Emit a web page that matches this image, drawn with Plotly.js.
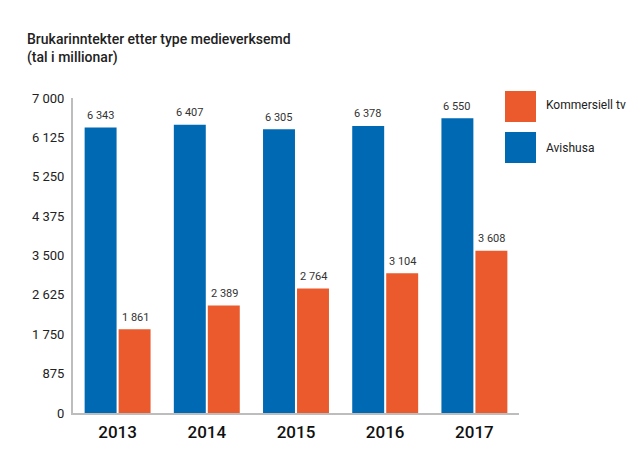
<!DOCTYPE html>
<html>
<head>
<meta charset="utf-8">
<script src="https://cdn.plot.ly/plotly-3.0.1.min.js"></script>
<style>
html,body{margin:0;padding:0;background:#fff;}
#chart{width:633px;height:471px;}
</style>
</head>
<body>
<div id="chart"></div>
<script>
var years = ['2013', '2014', '2015', '2016', '2017'];
var avishusa = [6343, 6407, 6305, 6378, 6550];
var kommersiellTv = [1861, 2389, 2764, 3104, 3608];
var seriesNames = ['Avishusa', 'Kommersiell tv'];
var yTicks = [0, 875, 1750, 2625, 3500, 4375, 5250, 6125, 7000];

var BLUE = '#0069b4';
var ORANGE = '#ea5a2c';
var FONT = 'Roboto, "Noto Sans", sans-serif';

function fmt(v) {
  return String(v).replace(/\B(?=(\d{3})+(?!\d))/g, ' ');
}

var traces = [
  {type: 'bar', name: seriesNames[0], x: years, y: avishusa, marker: {color: BLUE}, hoverinfo: 'none'},
  {type: 'bar', name: seriesNames[1], x: years, y: kommersiellTv, marker: {color: ORANGE}, hoverinfo: 'none'}
];

var annotations = [];
function addLabels(vals, shift) {
  for (var i = 0; i < years.length; i++) {
    annotations.push({
      xref: 'x', yref: 'y', x: i, y: vals[i],
      text: fmt(vals[i]), showarrow: false,
      xanchor: 'center', yanchor: 'middle',
      xshift: shift, yshift: 12,
      font: {family: FONT, size: 11, color: '#333'}
    });
  }
}
addLabels(avishusa, -17.5);
addLabels(kommersiellTv, 17.5);

// legend text
annotations.push({xref: 'paper', yref: 'paper', x: 1, y: 1, xshift: 25, yshift: -7,
  xanchor: 'left', yanchor: 'middle', showarrow: false, text: seriesNames[1],
  font: {family: FONT, size: 12, color: '#222'}});
annotations.push({xref: 'paper', yref: 'paper', x: 1, y: 1, xshift: 25, yshift: -50,
  xanchor: 'left', yanchor: 'middle', showarrow: false, text: seriesNames[0],
  font: {family: FONT, size: 12, color: '#222'}});

var shapes = [
  {type: 'rect', xref: 'paper', yref: 'paper', xsizemode: 'pixel', ysizemode: 'pixel',
   xanchor: 1, yanchor: 1, x0: -14, x1: 17, y0: -24, y1: 7, fillcolor: ORANGE, line: {width: 0}},
  {type: 'rect', xref: 'paper', yref: 'paper', xsizemode: 'pixel', ysizemode: 'pixel',
   xanchor: 1, yanchor: 1, x0: -14, x1: 17, y0: -65, y1: -34, fillcolor: BLUE, line: {width: 0}}
];

var layout = {
  width: 633, height: 471,
  margin: {l: 73, r: 114, t: 98, b: 58, pad: 0},
  paper_bgcolor: '#fff', plot_bgcolor: '#fff',
  separators: ', ',
  showlegend: false,
  barmode: 'group',
  bargap: 0.238,
  bargroupgap: 0.06,
  title: {
    text: 'Brukarinntekter etter type medieverksemd<br>(tal i millionar)',
    font: {family: FONT, size: 14, color: '#222', weight: 500},
    xref: 'container', yref: 'container', x: 27 / 633, xanchor: 'left',
    y: 1 - 44 / 471, yanchor: 'top'
  },
  xaxis: {
    type: 'category', range: [-0.5, 4.5], autorange: false,
    showline: true, linecolor: '#bdbdbd', linewidth: 2,
    showgrid: false, zeroline: false, ticks: '',
    tickfont: {family: FONT, size: 17, color: '#111', weight: 500},
    ticklabelstandoff: 3
  },
  yaxis: {
    range: [0, 7000], autorange: false, tickvals: yTicks, tickformat: ',d',
    showline: true, linecolor: '#bdbdbd', linewidth: 2,
    showgrid: false, zeroline: false, ticks: '',
    tickfont: {family: FONT, size: 13, color: '#222'},
    ticklabelstandoff: 4
  },
  annotations: annotations,
  shapes: shapes
};

Plotly.newPlot('chart', traces, layout, {displayModeBar: false, staticPlot: true});
</script>
</body>
</html>
